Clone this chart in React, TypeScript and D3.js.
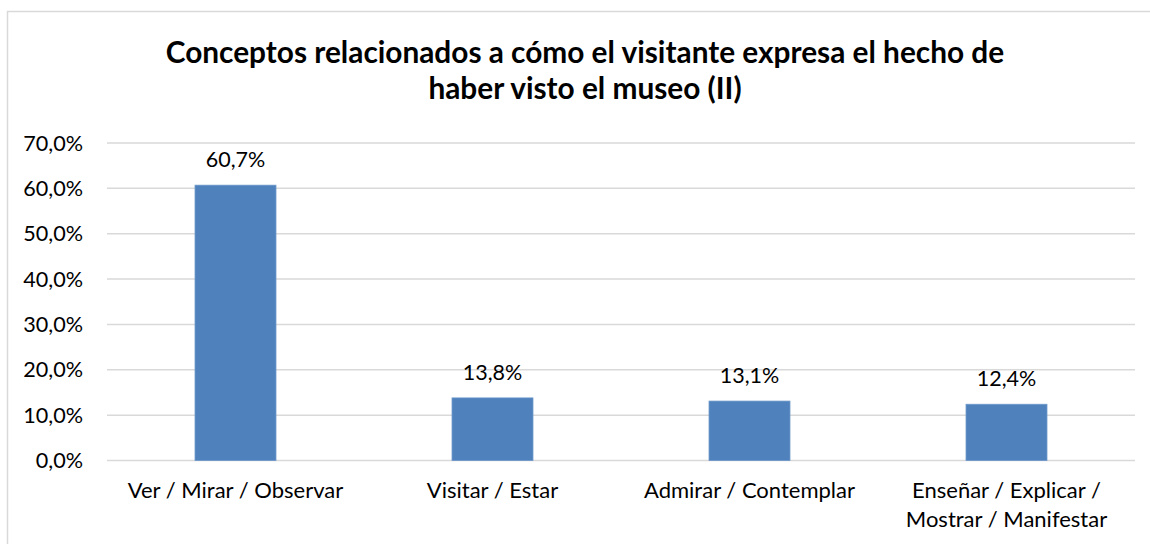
import React, { useEffect, useRef } from "react";
import * as d3 from "d3";

const categories = [
  ["Ver / Mirar / Observar"],
  ["Visitar / Estar"],
  ["Admirar / Contemplar"],
  ["Enseñar / Explicar /", "Mostrar / Manifestar"],
];
const values = [60.7, 13.8, 13.1, 12.4];
const yTicks = [0, 10, 20, 30, 40, 50, 60, 70];
const titleLines = [
  "Conceptos relacionados a cómo el visitante expresa el hecho de",
  "haber visto el museo (II)",
];

const fmt = (v: number) => v.toFixed(1).replace(".", ",") + "%";

const App = () => {
  const ref = useRef<SVGSVGElement>(null);

  useEffect(() => {
    const width = 1150;
    const height = 544;
    const font = "Lato, 'Open Sans', sans-serif";
    const margin = { left: 107, right: 15, top: 143, bottom: 83.5 };

    const svg = d3.select(ref.current);
    svg.selectAll("*").remove();
    svg.attr("width", width).attr("height", height);

    // cadre
    svg.append("rect")
      .attr("x", 7.5).attr("y", 11.5)
      .attr("width", width).attr("height", height)
      .attr("fill", "white").attr("stroke", "#d9d9d9").attr("stroke-width", 1.5);

    // titre
    svg.append("g").selectAll("text")
      .data(titleLines)
      .enter().append("text")
      .attr("x", 585)
      .attr("y", (_, i) => 63 + i * 36)
      .attr("text-anchor", "middle")
      .attr("font-family", font)
      .attr("font-weight", "bold")
      .attr("font-size", 29.8)
      .attr("fill", "#000")
      .text(d => d);

    const x = d3.scaleBand<number>()
      .domain(d3.range(categories.length))
      .range([margin.left, width - margin.right])
      .paddingInner(0.685)
      .paddingOuter(0.3425);

    const y = d3.scaleLinear()
      .domain([0, 70])
      .range([height - margin.bottom, margin.top]);

    // grille
    svg.append("g").selectAll("line")
      .data(yTicks)
      .enter().append("line")
      .attr("x1", margin.left).attr("x2", width - margin.right)
      .attr("y1", d => y(d)).attr("y2", d => y(d))
      .attr("stroke", "#d9d9d9").attr("stroke-width", 1.5);

    // etiquettes axe y
    svg.append("g").selectAll("text")
      .data(yTicks)
      .enter().append("text")
      .attr("x", 83)
      .attr("y", d => y(d) + 7.5)
      .attr("text-anchor", "end")
      .attr("font-family", font)
      .attr("font-size", 21.6)
      .attr("fill", "#000")
      .text(d => fmt(d));

    // barres
    svg.append("g").selectAll("rect")
      .data(values)
      .enter().append("rect")
      .attr("x", (_, i) => x(i)!)
      .attr("y", d => y(d))
      .attr("width", x.bandwidth())
      .attr("height", d => y(0) - y(d))
      .attr("fill", "#4f81bd")
      .attr("stroke", "#6b96c8").attr("stroke-width", 0.8);

    // valeurs
    svg.append("g").selectAll("text")
      .data(values)
      .enter().append("text")
      .attr("x", (_, i) => x(i)! + x.bandwidth() / 2)
      .attr("y", d => y(d) - 18)
      .attr("text-anchor", "middle")
      .attr("font-family", font)
      .attr("font-size", 21.5)
      .attr("fill", "#000")
      .text(d => fmt(d));

    // categories
    const cat = svg.append("g").selectAll("text")
      .data(categories)
      .enter().append("text")
      .attr("text-anchor", "middle")
      .attr("font-family", font)
      .attr("font-size", 22)
      .attr("fill", "#000");
    cat.selectAll("tspan")
      .data((d, i) => d.map(s => ({ s, i })))
      .enter().append("tspan")
      .attr("x", d => x(d.i)! + x.bandwidth() / 2)
      .attr("y", (_, j) => 498 + j * 29)
      .text(d => d.s);
  }, []);

  return (
    <div style={{ position: "absolute", left: 0, top: 0 }}>
      <svg ref={ref}></svg>
    </div>
  );
};

export default App;
